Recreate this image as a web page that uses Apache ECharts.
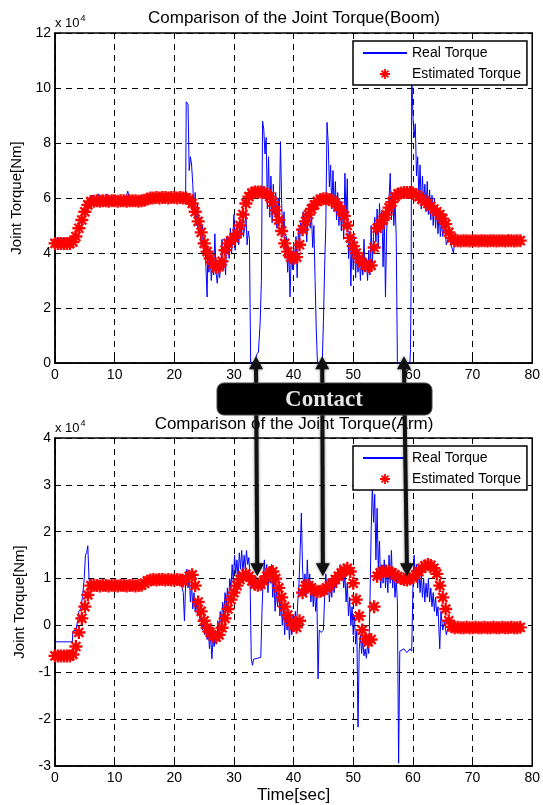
<!DOCTYPE html>
<html>
<head>
<meta charset="utf-8">
<script src="https://cdn.jsdelivr.net/npm/echarts@6.0.0/dist/echarts.min.js"></script>
<style>
html,body{margin:0;padding:0;background:#fff}
#main{width:543px;height:805px}
</style>
</head>
<body>
<div id="main"></div>
<script>
// values are in units of 10^4 Nm (the axes show "x 10^4")
var boomTitle = 'Comparison of the Joint Torque(Boom)';
var armTitle = 'Comparison of the Joint Torque(Arm)';
var seriesNames = ['Real Torque', 'Estimated Torque'];
var estStep = 0.5; // estimated torque is sampled every 0.5 s

// Boom - estimated torque, t = 0 .. 78 s
var boomEst = [
	4.35,4.35,4.35,4.35,4.35,4.35,4.4,4.6,4.9,5.2,
	5.5,5.75,5.87,5.88,5.9,5.88,5.9,5.9,5.88,5.9,
	5.9,5.88,5.9,5.9,5.88,5.9,5.9,5.9,5.88,5.9,
	5.92,5.96,6.0,6.0,6.02,6.0,6.02,6.02,6.0,6.02,
	6.02,6.0,6.02,6.0,6.0,5.95,5.8,5.5,5.15,4.75,
	4.35,4.05,3.8,3.6,3.47,3.5,3.7,4.1,4.35,4.45,
	4.55,4.7,5.0,5.4,5.8,6.05,6.18,6.22,6.22,6.22,
	6.2,6.15,6.05,5.85,5.55,5.2,4.8,4.35,4.05,3.85,
	3.8,3.85,4.3,4.85,5.15,5.4,5.6,5.75,5.88,5.95,
	5.97,5.97,5.95,5.9,5.82,5.7,5.55,5.35,5.0,4.55,
	4.25,4.0,3.8,3.65,3.55,3.5,3.55,4.2,4.9,5.05,
	5.2,5.4,5.65,5.85,6.05,6.15,6.18,6.2,6.2,6.2,
	6.18,6.12,6.05,5.95,5.88,5.8,5.7,5.6,5.5,5.4,
	5.25,5.05,4.75,4.55,4.45,4.45,4.44,4.45,4.45,4.44,
	4.45,4.45,4.44,4.45,4.45,4.44,4.45,4.45,4.44,4.45,
	4.45,4.44,4.45,4.45,4.44,4.45,4.45
];

// Boom - real torque [time, value]
var boomReal = [
	[0,4.52],[3,4.52],[3.2,4.6],[3.5,4.7],[4,4.95],[4.5,5.3],[5,5.6],[5.3,5.5],[5.6,5.9],[6,5.95],
	[6.3,6.1],[6.5,5.9],[7,6.0],[7.3,6.15],[7.6,5.95],[8,6.1],[8.3,5.9],[8.7,6.15],[9,6.05],[9.4,5.95],
	[9.8,6.1],[10.2,5.95],[10.6,6.05],[11,5.9],[11.4,6.0],[11.8,5.95],[12.2,6.25],[12.5,5.95],[13,5.9],[13.5,6.0],
	[14,5.85],[14.5,5.95],[15,5.9],[15.5,6.05],[16,6.1],[16.5,5.95],[17,6.05],[17.5,5.95],[18,6.1],[18.5,5.9],
	[19,6.05],[19.5,5.95],[20,6.1],[20.5,5.9],[21,6.05],[21.5,6.0],[21.9,6.0],[22.0,9.5],[22.3,9.4],[22.5,7.0],
	[22.7,7.5],[22.9,7.2],[23.1,6.5],[23.3,5.4],[23.5,6.2],[23.7,5.0],[23.9,5.8],[24.1,4.8],[24.3,5.3],[24.5,4.3],
	[24.7,5.0],[24.9,4.0],[25.1,4.6],[25.3,3.5],[25.5,2.4],[25.6,3.9],[25.8,3.3],[26.0,4.1],[26.2,3.0],[26.4,3.6],
	[26.6,3.2],[26.8,4.7],[27.0,3.3],[27.2,2.9],[27.4,3.4],[27.6,3.1],[27.8,3.6],[28.0,4.5],[28.2,3.4],[28.4,3.8],
	[28.6,3.2],[28.8,4.6],[29.0,4.2],[29.2,3.8],[29.4,4.9],[29.6,4.0],[29.8,4.5],[30.0,5.4],[30.2,4.1],[30.4,4.8],
	[30.6,5.1],[30.8,4.3],[31.0,5.0],[31.2,4.6],[31.4,5.3],[31.6,4.6],[31.8,4.9],[32.0,5.5],[32.2,4.3],[32.4,4.8],
	[32.6,4.5],[32.8,0],[33.5,0],[33.8,0.3],[34.1,0.4],[34.4,1.5],[34.6,3.0],[34.8,8.8],[35.0,8.5],[35.2,7.6],
	[35.4,8.2],[35.6,5.6],[35.8,7.5],[36.0,5.3],[36.2,6.8],[36.4,5.1],[36.6,6.5],[36.8,5.4],[37.0,6.2],[37.2,4.9],
	[37.4,6.0],[37.6,5.3],[37.8,8.05],[38.0,5.8],[38.2,4.6],[38.4,5.5],[38.6,3.8],[38.8,4.6],[39.0,3.3],[39.2,4.2],
	[39.4,2.4],[39.6,3.9],[39.8,3.4],[40.0,4.3],[40.2,3.6],[40.4,4.6],[40.6,3.1],[40.8,4.9],[41.0,4.4],[41.2,5.1],
	[41.4,4.7],[41.6,5.5],[41.8,4.9],[42.0,5.6],[42.2,4.4],[42.4,5.3],[42.6,5.8],[42.8,4.9],[43.0,5.4],[43.2,4.2],
	[43.4,5.0],[43.6,3.0],[43.8,1.2],[44.0,0],[44.8,0],[45.0,1.5],[45.2,3.5],[45.4,5.0],[45.6,8.75],[45.8,8.0],
	[46.0,6.4],[46.2,7.2],[46.4,5.6],[46.6,7.0],[46.8,5.5],[47.0,6.6],[47.2,5.2],[47.4,6.2],[47.6,5.0],[47.8,5.9],
	[48.0,4.8],[48.2,5.6],[48.4,4.5],[48.6,6.9],[48.8,5.2],[49.0,6.7],[49.2,3.8],[49.4,4.8],[49.6,2.8],[49.8,4.4],
	[50.0,3.4],[50.2,4.6],[50.4,3.1],[50.6,4.2],[50.8,3.3],[51.0,4.0],[51.2,3.0],[51.4,3.9],[51.6,3.2],[51.8,4.5],
	[52.0,3.3],[52.2,3.8],[52.4,3.0],[52.6,4.1],[52.8,3.2],[53.0,5.0],[53.2,3.6],[53.4,4.6],[53.6,5.3],[53.8,4.4],
	[54.0,5.6],[54.2,4.2],[54.4,5.8],[54.6,4.8],[54.8,5.5],[55.0,3.5],[55.2,5.4],[55.4,2.4],[55.6,4.8],[55.8,5.6],
	[56.0,6.0],[56.2,6.9],[56.4,5.2],[56.6,6.2],[56.8,5.0],[57.0,5.9],[57.2,4.6],[57.4,0],[59.5,0],[59.6,0.5],
	[59.7,3.0],[59.8,10.6],[60.0,9.0],[60.2,8.2],[60.4,8.7],[60.6,6.8],[60.8,7.5],[61.0,6.0],[61.2,7.2],[61.4,5.6],
	[61.6,6.8],[61.8,5.8],[62.0,6.5],[62.2,5.5],[62.4,6.6],[62.6,5.4],[62.8,6.3],[63.0,5.2],[63.2,6.1],[63.4,5.0],
	[63.6,6.0],[63.8,4.9],[64.0,5.7],[64.2,4.7],[64.4,5.5],[64.6,4.6],[64.8,5.2],[65.0,4.6],[65.3,5.0],[65.6,4.3],
	[66.0,4.6],[66.4,4.3],[66.8,4.0],[67.0,4.5],[67.5,4.6],[68,4.5],[68.5,4.62],[69,4.5],[69.5,4.6],[70,4.52],
	[70.5,4.62],[71,4.5],[71.5,4.6],[72,4.55],[72.5,4.62],[73,4.5],[73.5,4.6],[74,4.55],[74.5,4.62],[75,4.5],
	[75.5,4.55],[76,4.68],[76.5,4.5],[77,4.58],[77.5,4.55]
];

// Arm - estimated torque, t = 0 .. 78 s
var armEst = [
	-0.65,-0.65,-0.65,-0.65,-0.65,-0.65,-0.62,-0.45,-0.15,0.15,
	0.4,0.65,0.85,0.86,0.85,0.84,0.86,0.85,0.84,0.86,
	0.85,0.84,0.86,0.85,0.84,0.85,0.86,0.84,0.85,0.86,
	0.9,0.95,0.97,0.98,0.97,0.98,0.98,0.97,0.98,0.97,
	0.97,0.98,0.97,0.95,1.0,1.05,1.08,0.85,0.5,0.3,
	0.1,-0.05,-0.15,-0.23,-0.25,-0.2,-0.05,0.15,0.35,0.55,
	0.7,0.85,0.98,1.06,1.1,1.05,0.95,0.88,0.86,0.88,
	0.95,1.05,1.13,1.15,1.0,0.8,0.6,0.4,0.22,0.08,
	0.0,-0.04,0.1,0.7,0.85,0.85,0.8,0.75,0.72,0.73,
	0.75,0.8,0.85,0.9,0.98,1.05,1.12,1.18,1.22,1.15,
	0.9,0.55,0.2,-0.1,-0.28,-0.35,-0.3,0.4,1.05,1.12,
	1.15,1.16,1.15,1.12,1.08,1.04,1.0,0.98,0.97,0.99,
	1.02,1.08,1.15,1.22,1.27,1.3,1.28,1.22,1.1,0.85,
	0.6,0.35,0.1,-0.03,-0.05,-0.04,-0.05,-0.05,-0.04,-0.05,
	-0.05,-0.04,-0.05,-0.05,-0.04,-0.05,-0.05,-0.04,-0.05,-0.05,
	-0.04,-0.05,-0.05,-0.04,-0.05,-0.05,-0.04
];

// Arm - real torque [time, value]
var armReal = [
	[0,-0.35],[2.9,-0.35],[3.0,-0.12],[3.5,-0.1],[3.8,0.1],[4.0,0.3],[4.3,0.35],[4.6,0.6],[4.9,1.0],[5.1,1.5],
	[5.3,1.55],[5.5,1.7],[5.7,1.0],[5.9,0.8],[6.2,0.9],[6.6,0.85],[7,0.9],[7.5,0.85],[8,0.9],[9,0.87],
	[10,0.9],[11,0.86],[12,0.88],[13,0.9],[14,0.86],[15,0.92],[16,0.95],[17,0.96],[18,0.95],[19,0.97],
	[20,0.95],[21,0.96],[21.5,0.7],[21.7,0.1],[21.9,0.9],[22.1,1.2],[22.3,0.8],[22.5,1.1],[22.7,0.5],[22.9,0.9],
	[23.1,0.35],[23.3,0.7],[23.5,0.3],[23.7,0.5],[23.9,0.2],[24.1,0.5],[24.3,0.1],[24.5,0.35],[24.7,-0.1],[24.9,0.2],
	[25.1,-0.2],[25.3,0.1],[25.5,-0.3],[25.7,-0.1],[25.9,-0.5],[26.1,-0.2],[26.3,-0.71],[26.5,-0.3],[26.7,-0.45],[26.9,-0.1],
	[27.1,-0.4],[27.3,0.1],[27.5,-0.2],[27.7,0.3],[27.9,0.0],[28.1,0.5],[28.3,0.2],[28.5,0.7],[28.7,0.4],[28.9,0.8],
	[29.1,0.5],[29.3,1.0],[29.5,0.8],[29.7,1.3],[29.9,0.9],[30.1,1.5],[30.3,1.1],[30.5,1.4],[30.7,1.0],[30.9,1.55],
	[31.1,1.2],[31.3,1.6],[31.5,1.1],[31.7,1.5],[31.9,1.2],[32.1,1.6],[32.3,1.3],[32.5,1.45],[32.7,1.0],[32.9,-0.71],
	[33.1,-0.85],[33.3,-0.72],[34.0,-0.7],[34.5,-0.68],[34.7,0.3],[34.9,1.0],[35.1,1.4],[35.3,0.9],[35.5,1.3],[35.7,0.7],
	[35.9,1.2],[36.1,0.9],[36.3,1.3],[36.5,0.6],[36.7,1.0],[36.9,0.3],[37.1,0.8],[37.3,0.4],[37.5,0.9],[37.7,0.2],
	[37.9,0.6],[38.1,0.0],[38.3,0.4],[38.5,-0.2],[38.7,0.3],[38.9,-0.1],[39.1,0.2],[39.3,-0.3],[39.5,0.1],[39.7,-0.2],
	[39.9,0.2],[40.1,-0.1],[40.3,0.3],[40.5,0.0],[40.7,0.5],[40.9,0.9],[41.1,1.6],[41.3,2.4],[41.5,1.2],[41.7,0.8],
	[41.9,1.1],[42.1,0.6],[42.3,1.4],[42.5,0.8],[42.7,1.1],[42.9,0.5],[43.1,0.9],[43.3,0.4],[43.5,0.8],[43.7,0.3],
	[43.9,0.6],[44.1,-1.14],[44.3,-0.1],[44.6,-0.15],[45.0,-0.1],[45.2,0.6],[45.4,1.1],[45.6,0.7],[45.8,1.0],[46.0,0.5],
	[46.2,0.9],[46.4,0.6],[46.6,1.0],[46.8,0.7],[47.0,1.1],[47.2,0.8],[47.4,1.2],[47.6,0.9],[47.8,1.3],[48.0,1.0],
	[48.2,1.2],[48.4,0.8],[48.6,1.1],[48.8,0.5],[49.0,0.9],[49.2,0.2],[49.4,0.6],[49.6,0.0],[49.8,0.4],[50.0,-0.2],
	[50.2,0.2],[50.4,-0.4],[50.6,-0.1],[50.8,-2.17],[51.0,-0.5],[51.2,-0.2],[51.4,-0.6],[51.6,-0.3],[51.8,-0.65],[52.0,-0.5],
	[52.2,-0.7],[52.4,-0.4],[52.6,-0.6],[52.8,0.5],[53.0,2.0],[53.2,3.0],[53.4,2.2],[53.6,2.8],[53.8,1.4],[54.0,2.5],
	[54.2,1.2],[54.4,1.8],[54.6,0.8],[54.8,1.3],[55.0,0.9],[55.2,1.4],[55.4,0.8],[55.6,1.2],[55.8,0.7],[56.0,1.5],
	[56.2,0.9],[56.4,1.6],[56.6,0.8],[56.8,1.2],[57.0,0.6],[57.2,1.0],[57.4,0.5],[57.6,-2.94],[57.8,-0.55],[58.5,-0.5],
	[59.0,-0.58],[59.5,-0.5],[59.8,-0.55],[60.0,0.8],[60.2,1.5],[60.4,1.0],[60.6,1.3],[60.8,0.8],[61.0,1.2],[61.2,0.7],
	[61.4,1.1],[61.6,0.6],[61.8,1.0],[62.0,0.5],[62.2,0.9],[62.4,0.6],[62.6,1.0],[62.8,0.5],[63.0,0.8],[63.2,0.4],
	[63.4,0.7],[63.6,0.3],[63.8,0.6],[64.0,0.2],[64.2,0.4],[64.5,-0.5],[64.7,0.3],[65.0,-0.1],[65.3,0.1],[65.6,-0.2],
	[66.0,0.0],[66.5,-0.05],[67,-0.03],[68,-0.05],[69,-0.02],[70,-0.05],[71,-0.03],[72,-0.04],[73,-0.02],[73.5,0.06],
	[73.7,-0.03],[74,-0.04],[75,-0.03],[76,-0.05],[77,-0.03],[77.5,-0.04]
];

// contact instants (s) where the arrows point, top and bottom plot
var contactTop = [33.7, 44.8, 58.5];
var contactBottom = [33.9, 44.9, 59.0];
var contactTopValue = 0.25;
var contactBottomValue = 1.05;

var FONT = '"Liberation Sans", Arial, Helvetica, sans-serif';
// matlab style asterisk marker
var starPath = 'path://M-0.9,-5L0.9,-5L0.9,5L-0.9,5Z M-5,-0.9L5,-0.9L5,0.9L-5,0.9Z M-4.1,-2.8L-2.8,-4.1L4.1,2.8L2.8,4.1Z M2.8,-4.1L4.1,-2.8L-2.8,4.1L-4.1,2.8Z';

function withTime(arr){
	return arr.map(function(v, i){ return [i * estStep, v]; });
}

function xAxisOf(gridIndex, name){
	return {
		type: 'value', gridIndex: gridIndex, min: 0, max: 80, interval: 10,
		name: name || '', nameLocation: 'middle', nameGap: 21,
		nameTextStyle: {color: '#000', fontSize: 17, fontFamily: FONT},
		axisLine: {show: true, onZero: false, lineStyle: {color: '#000', width: 1.5}},
		axisTick: {show: true, inside: true, length: 5, lineStyle: {color: '#000'}},
		axisLabel: {color: '#000', fontSize: 14, margin: 5, fontFamily: FONT},
		splitLine: {show: true, lineStyle: {color: '#000', type: [6, 5], width: 1}}
	};
}
function yAxisOf(gridIndex, min, max, interval){
	return {
		type: 'value', gridIndex: gridIndex, min: min, max: max, interval: interval,
		name: 'Joint Torque[Nm]', nameLocation: 'middle', nameGap: 28,
		nameTextStyle: {color: '#000', fontSize: 15, fontFamily: FONT},
		axisLine: {show: true, lineStyle: {color: '#000', width: 1.5}},
		axisTick: {show: true, inside: true, length: 5, lineStyle: {color: '#000'}},
		axisLabel: {color: '#000', fontSize: 14, margin: 4, fontFamily: FONT},
		splitLine: {show: true, lineStyle: {color: '#000', type: [6, 5], width: 1}}
	};
}
function legendOf(top){
	return {
		data: [
			{name: seriesNames[0], itemStyle: {opacity: 0}},
			{name: seriesNames[1]}
		],
		orient: 'vertical', left: 353, top: top,
		itemWidth: 44, itemHeight: 10, itemGap: 7,
		padding: [5, 6, 4, 9],
		backgroundColor: '#fff', borderColor: '#000', borderWidth: 1.5,
		selectedMode: false,
		textStyle: {color: '#000', fontSize: 14, fontFamily: FONT}
	};
}
function realSeries(idx, data){
	return {
		name: seriesNames[0], type: 'line', xAxisIndex: idx, yAxisIndex: idx,
		data: data, symbol: 'none', animation: false, z: 2,
		lineStyle: {color: '#0000ff', width: 1}, itemStyle: {color: '#0000ff'}
	};
}
function estSeries(idx, data){
	return {
		name: seriesNames[1], type: 'scatter', xAxisIndex: idx, yAxisIndex: idx,
		data: withTime(data), symbol: starPath, symbolSize: 13, symbolKeepAspect: true,
		animation: false, z: 3,
		itemStyle: {color: '#ff0000', opacity: 1}
	};
}

var chart = echarts.init(document.getElementById('main'));
var option = {
	backgroundColor: '#fff',
	animation: false,
	title: [
		{text: boomTitle, left: 294, top: 10, textAlign: 'center', padding: 0,
			textStyle: {color: '#000', fontSize: 17, fontWeight: 'normal', fontFamily: FONT}},
		{text: armTitle, left: 294, top: 416, textAlign: 'center', padding: 0,
			textStyle: {color: '#000', fontSize: 17, fontWeight: 'normal', fontFamily: FONT}}
	],
	grid: [
		{left: 55, top: 33, width: 481, height: 330, show: true, borderColor: '#000', borderWidth: 1.5},
		{left: 55, top: 438, width: 481, height: 330, show: true, borderColor: '#000', borderWidth: 1.5}
	],
	xAxis: [xAxisOf(0), xAxisOf(1, 'Time[sec]')],
	yAxis: [yAxisOf(0, 0, 12, 2), yAxisOf(1, -3, 4, 1)],
	legend: [legendOf(41), legendOf(446)],
	series: [
		realSeries(0, boomReal), estSeries(0, boomEst),
		realSeries(1, armReal), estSeries(1, armEst)
	]
};
chart.setOption(option);

// scale factor labels, contact box and arrows
function scaleLabel(x, y){
	return {
		type: 'text', x: x, y: y, z: 50,
		style: {
			text: '{a|x 10}{s|4}',
			rich: {
				a: {fontSize: 13, fontFamily: FONT, fill: '#000', color: '#000'},
				s: {fontSize: 9, fontFamily: FONT, fill: '#000', color: '#000', padding: [0, 0, 10, 1]}
			}
		}
	};
}
var gfx = [scaleLabel(55, 14), scaleLabel(55, 419)];
contactTop.forEach(function(t, i){
	var p1 = chart.convertToPixel({gridIndex: 0}, [t, contactTopValue]);
	var p2 = chart.convertToPixel({gridIndex: 1}, [contactBottom[i], contactBottomValue]);
	gfx.push({type: 'line', z: 60,
		shape: {x1: p1[0], y1: p1[1] + 8, x2: p2[0], y2: p2[1] - 8},
		style: {stroke: '#111', lineWidth: 4, shadowBlur: 3, shadowColor: 'rgba(0,0,0,0.5)'}});
	gfx.push({type: 'polygon', z: 61,
		shape: {points: [[p1[0], p1[1]], [p1[0] - 7, p1[1] + 13], [p1[0] + 7, p1[1] + 13]]},
		style: {fill: '#111', shadowBlur: 3, shadowColor: 'rgba(0,0,0,0.5)'}});
	gfx.push({type: 'polygon', z: 61,
		shape: {points: [[p2[0], p2[1]], [p2[0] - 7, p2[1] - 13], [p2[0] + 7, p2[1] - 13]]},
		style: {fill: '#111', shadowBlur: 3, shadowColor: 'rgba(0,0,0,0.5)'}});
});
gfx.push({type: 'rect', z: 70,
	shape: {x: 217, y: 383, width: 215, height: 32, r: 7},
	style: {fill: '#000', stroke: '#444', lineWidth: 1}});
gfx.push({type: 'text', z: 71, x: 324, y: 400,
	style: {text: 'Contact', fill: '#e6e6e6', fontSize: 23, fontWeight: 'bold',
		fontFamily: '"Liberation Serif", "DejaVu Serif", serif',
		align: 'center', verticalAlign: 'middle', textAlign: 'center', textVerticalAlign: 'middle'}});
chart.setOption({graphic: gfx});
</script>
</body>
</html>
